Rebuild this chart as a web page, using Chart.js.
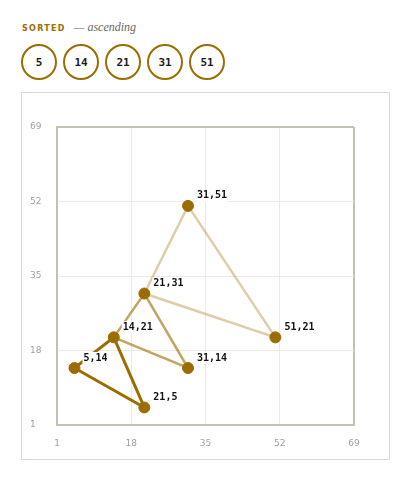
<!DOCTYPE html>
<html>
<head>
<meta charset="utf-8">
<script src="https://cdn.jsdelivr.net/npm/chart.js@4"></script>
<style>
  html, body { margin: 0; padding: 0; background: #fff; }
  body { position: relative; width: 410px; height: 488px; overflow: hidden; }
  .head { position: absolute; left: 22px; top: 17px; white-space: nowrap; }
  .head__tag { font: bold 8px "DejaVu Sans", sans-serif; letter-spacing: 1.3px; color: #9b6d00; }
  .head__sub { font: italic 12px "Liberation Serif", serif; color: #666; margin-left: 8px; }
  .chips { position: absolute; left: 21px; top: 44px; display: flex; gap: 6px; }
  .chip {
    width: 32px; height: 32px; border: 2px solid #9b6d00; border-radius: 50%;
    display: flex; align-items: center; justify-content: center;
    font: bold 11px "DejaVu Sans Mono", monospace; color: #1a1a1a;
  }
  .box { position: absolute; left: 21px; top: 92px; width: 367px; height: 366px; border: 1px solid #ddd8c9; }
  .box canvas { display: block; }
</style>
</head>
<body>
<div class="head"><span class="head__tag">SORTED</span><span class="head__sub">— ascending</span></div>
<div class="chips" id="chips"></div>
<div class="box"><canvas id="c" width="367" height="366"></canvas></div>
<script>
// sortierte Werte (Kopfzeile)
const SORTED = [5, 14, 21, 31, 51];

// Punkte (x, y)
const PX = [5, 14, 21, 21, 31, 31, 51];
const PY = [14, 21, 5, 31, 14, 51, 21];

// Dreiecke, jeweils geschlossen
const TRI_X = [
  [5, 14, 21, 5],
  [14, 21, 31, 14],
  [21, 31, 51, 21],
];
const TRI_Y = [
  [14, 21, 5, 14],
  [21, 31, 14, 21],
  [31, 51, 21, 31],
];

const TICKS = [1, 18, 35, 52, 69];

const GOLD = "#9b6d00";
const TRI_COLORS = ["rgba(155,109,0,1)", "rgba(155,109,0,0.62)", "rgba(155,109,0,0.34)"];
const TRI_WIDTH = [3, 2.5, 2.5];
const FRAME = "#c6c0b1";
const GRID = "#efeadf";

// Kopfzeile
const chips = document.getElementById("chips");
SORTED.forEach((v) => {
  const d = document.createElement("div");
  d.className = "chip";
  d.textContent = v;
  chips.appendChild(d);
});

const toXY = (xs, ys) => xs.map((x, i) => ({ x: x, y: ys[i] }));

const datasets = TRI_X.map((xs, i) => ({
  type: "line",
  data: toXY(xs, TRI_Y[i]),
  borderColor: TRI_COLORS[i],
  borderWidth: TRI_WIDTH[i],
  pointRadius: 0,
  fill: false,
  tension: 0,
  order: i + 1,
}));

datasets.push({
  type: "scatter",
  data: toXY(PX, PY),
  backgroundColor: GOLD,
  borderColor: GOLD,
  pointRadius: 5.5,
  pointHoverRadius: 5.5,
  order: 0,
});

// Beschriftung "x,y" neben den Punkten
const pointLabels = {
  id: "pointLabels",
  afterDatasetsDraw(chart) {
    const { ctx, scales } = chart;
    ctx.save();
    ctx.font = "bold 10px 'DejaVu Sans Mono', monospace";
    ctx.textBaseline = "middle";
    ctx.textAlign = "left";
    PX.forEach((x, i) => {
      const txt = x + "," + PY[i];
      const lx = scales.x.getPixelForValue(x) + 9;
      const ly = scales.y.getPixelForValue(PY[i]) - 10;
      const w = ctx.measureText(txt).width;
      ctx.fillStyle = "#fff";
      ctx.fillRect(lx - 1, ly - 6, w + 2, 12);
      ctx.fillStyle = "#111";
      ctx.fillText(txt, lx, ly);
    });
    ctx.restore();
  },
};

const edge = (c) => c.index === TICKS.length - 1;

const scaleBase = {
  type: "linear",
  min: 1,
  max: 69,
  afterBuildTicks: (axis) => { axis.ticks = TICKS.map((v) => ({ value: v })); },
  grid: {
    drawTicks: false,
    color: (c) => (edge(c) ? FRAME : GRID),
    lineWidth: (c) => (edge(c) ? 2 : 1),
  },
  border: { display: true, color: FRAME, width: 2 },
};

new Chart(document.getElementById("c"), {
  data: { datasets: datasets },
  options: {
    responsive: false,
    animation: false,
    events: [],
    layout: { padding: { left: 8, top: 34, right: 35, bottom: 0 } },
    plugins: { legend: { display: false }, tooltip: { enabled: false } },
    scales: {
      x: Object.assign({}, scaleBase, {
        position: "bottom",
        afterFit: (a) => { a.height = 34; },
        ticks: { color: "#9ca1a8", font: { family: "DejaVu Sans", size: 9 }, padding: 13, maxRotation: 0 },
      }),
      y: Object.assign({}, scaleBase, {
        position: "left",
        afterFit: (a) => { a.width = 27; },
        ticks: { color: "#9ca1a8", font: { family: "DejaVu Sans", size: 9 }, crossAlign: "far", padding: 0 },
      }),
    },
  },
  plugins: [pointLabels],
});
</script>
</body>
</html>
